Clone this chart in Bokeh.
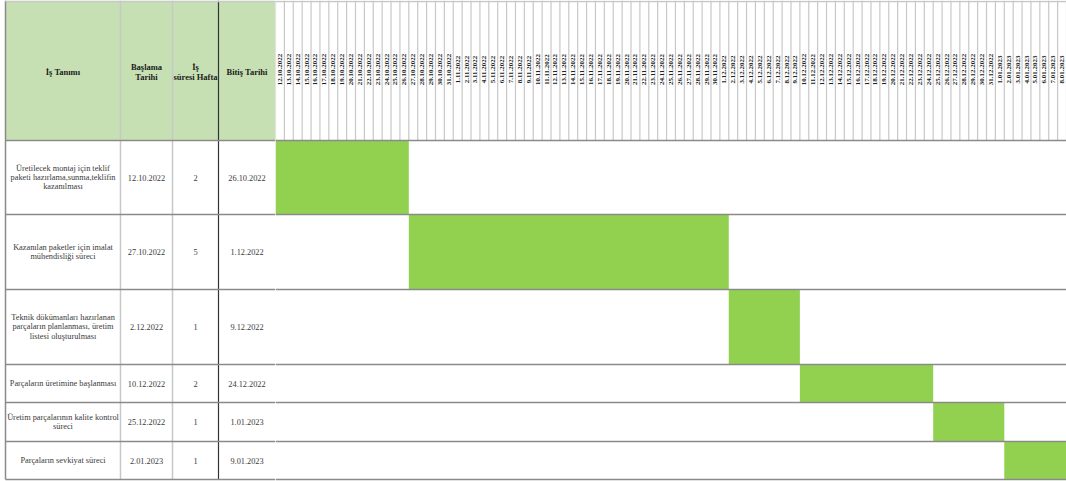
from datetime import datetime, timedelta
from math import pi

from bokeh.core.properties import value
from bokeh.embed import file_html
from bokeh.layouts import row
from bokeh.models import ColumnDataSource, Range1d
from bokeh.plotting import figure
from bokeh.resources import INLINE

# ---- schedule data -------------------------------------------------------
tasks = [
    "Üretilecek montaj için teklif\npaketi hazırlama,sunma,teklifin\nkazanılması",
    "Kazanılan paketler için imalat\nmühendisliği süreci",
    "Teknik dökümanları hazırlanan\nparçaların planlanması, üretim\nlistesi oluşturulması",
    "Parçaların üretimine başlanması",
    "Üretim parçalarının kalite kontrol\nsüreci",
    "Parçaların sevkiyat süreci",
]
start_dates = ["12.10.2022", "27.10.2022", "2.12.2022", "10.12.2022", "25.12.2022", "2.01.2023"]
durations_weeks = [2, 5, 1, 2, 1, 1]
end_dates = ["26.10.2022", "1.12.2022", "9.12.2022", "24.12.2022", "1.01.2023", "9.01.2023"]

column_titles = ["İş Tanımı", "Başlama\nTarihi", "İş\nsüresi Hafta", "Bitiş Tarihi"]

timeline_first = "12.10.2022"
timeline_last = "8.01.2023"


def parse(s):
    return datetime.strptime(s, "%d.%m.%Y")


t0 = parse(timeline_first)
t1 = parse(timeline_last)
n_days = (t1 - t0).days + 1
day_dates = [t0 + timedelta(days=i) for i in range(n_days)]
day_labels = [f"{d.day}.{d.month:02d}.{d.year}" for d in day_dates]

# ---- layout of the sheet (pixels) ---------------------------------------
W, H = 1066, 481
TABLE_W = 275
HEADER_H = 140
row_heights = [74, 75, 75, 38, 39, 38]
col_edges = [5, 120, 172, 218, 275]

row_edges = [HEADER_H]
for h in row_heights:
    row_edges.append(row_edges[-1] + h)
row_tops = row_edges[:-1]
row_bottoms = row_edges[1:]
row_mids = [(a + b) / 2 for a, b in zip(row_tops, row_bottoms)]

HEADER_GREEN = "#C6E0B4"
BAR_GREEN = "#92D050"
RULE = "#8a8a8a"
LIGHT_RULE = "#c8c8c8"
TEXT = "#3a3a3a"
SERIF = value("Liberation Serif")


def bare(fig):
    fig.xaxis.visible = False
    fig.yaxis.visible = False
    fig.xgrid.visible = False
    fig.ygrid.visible = False
    fig.outline_line_color = None
    fig.min_border = 0
    fig.min_border_left = fig.min_border_right = 0
    fig.min_border_top = fig.min_border_bottom = 0
    fig.background_fill_color = "white"
    fig.border_fill_color = "white"


# ---- left table ----------------------------------------------------------
left = figure(width=TABLE_W, height=H, x_range=Range1d(0, TABLE_W), y_range=Range1d(H, 0),
              output_backend="svg", toolbar_location=None)
bare(left)

left.quad(left=[col_edges[0]], right=[col_edges[-1]], top=[0], bottom=[HEADER_H],
          fill_color=HEADER_GREEN, line_color=None)

col_mids = [(a + b) / 2 for a, b in zip(col_edges[:-1], col_edges[1:])]
left.text(x=col_mids, y=[71] * 4, text=column_titles, text_font=SERIF,
          text_font_style="bold", text_font_size="8.5px", text_color="#202020",
          text_align="center", text_baseline="middle", text_line_height=1.0)

# body cells
cells_x, cells_y, cells_t = [], [], []
for i in range(len(tasks)):
    for cx, txt in zip(col_mids, [tasks[i], start_dates[i], str(durations_weeks[i]), end_dates[i]]):
        cells_x.append(cx)
        cells_y.append(row_mids[i])
        cells_t.append(txt)
left.text(x=cells_x, y=cells_y, text=cells_t, text_font=SERIF, text_font_size="8.3px",
          text_color=TEXT, text_align="center", text_baseline="middle", text_line_height=1.05)

# vertical column rules
left.segment(x0=[col_edges[0]], y0=[0], x1=[col_edges[0]], y1=[row_edges[-1]],
             line_color=RULE, line_width=1.5)
left.segment(x0=col_edges[1:3], y0=[0, 0], x1=col_edges[1:3], y1=[row_edges[-1]] * 2,
             line_color=LIGHT_RULE, line_width=1.5)
left.segment(x0=[col_edges[3]], y0=[0], x1=[col_edges[3]], y1=[row_edges[-1]],
             line_color="#333333", line_width=1.2)
# horizontal rules
left.segment(x0=[col_edges[0]] * len(row_edges), y0=row_edges,
             x1=[TABLE_W] * len(row_edges), y1=row_edges, line_color=RULE, line_width=1.5)
left.segment(x0=[col_edges[0]], y0=[1], x1=[TABLE_W], y1=[1], line_color=LIGHT_RULE, line_width=1.5)

# ---- timeline ------------------------------------------------------------
one_day = timedelta(days=1)
right = figure(width=W - TABLE_W, height=H, x_axis_type="datetime",
               x_range=Range1d(t0, t1 + one_day), y_range=Range1d(H, 0),
               output_backend="svg", toolbar_location=None)
bare(right)

bars = ColumnDataSource(dict(
    left=[parse(s) for s in start_dates],
    right=[parse(e) + one_day for e in end_dates],
    top=row_tops,
    bottom=row_bottoms,
))
right.quad(left="left", right="right", top="top", bottom="bottom", source=bars,
           fill_color=BAR_GREEN, line_color=None)

# day columns in the header
edges = day_dates + [t1 + one_day]
right.segment(x0=edges, y0=[0] * len(edges), x1=edges, y1=[HEADER_H] * len(edges),
              line_color=LIGHT_RULE, line_width=1.2)
right.text(x=[d + timedelta(hours=12) for d in day_dates], y=[69] * n_days, text=day_labels,
           angle=pi / 2, text_font=SERIF, text_font_style="bold", text_font_size="7px",
           text_color="#202020", text_align="center", text_baseline="middle")

right.segment(x0=[t0] * len(row_edges), y0=row_edges, x1=[t1 + one_day] * len(row_edges),
              y1=row_edges, line_color=RULE, line_width=1.5)
right.segment(x0=[t0], y0=[1], x1=[t1 + one_day], y1=[1], line_color=LIGHT_RULE, line_width=1.5)

layout = row(left, right, spacing=0)
open("out.html", "w").write(file_html(layout, INLINE))
